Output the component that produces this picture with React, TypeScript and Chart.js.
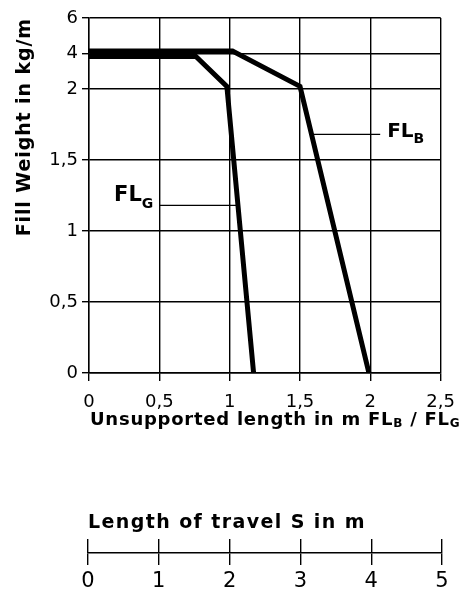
import React, { useEffect, useRef } from "react";
import { Chart, registerables } from "chart.js";

Chart.register(...registerables);

// ---- data ----
const xTickStep = 0.5;
const xMin = 0;
const xMax = 2.5;
const yTickValues = [0, 0.5, 1, 1.5, 2, 4, 6];

const flbX = [0, 1.02, 1.5, 1.99];
const flbY = [4.14, 4.14, 2.15, 0];

const flgX = [0, 0.76, 0.98, 1.17];
const flgY = [3.83, 3.83, 2.15, 0];

const leaderGX = [0.5, 1.05];
const leaderGY = [1.18, 1.18];
const leaderBX = [1.585, 2.07];
const leaderBY = [1.68, 1.68];

const travelTicks = [0, 1, 2, 3, 4, 5];

const FONT = "'DejaVu Sans', 'Liberation Sans', Arial, sans-serif";

// y-axis is piecewise: 0..2 in steps of 0.5 get one unit each, 2..6 compressed
const toPos = (v: number) => (v <= 2 ? v * 2 : 4 + (v - 2) / 4);
const fmt = (v: number) => String(v).replace(".", ",");

type Seg = { t: string; size: number; dy?: number };

function drawRich(
  ctx: CanvasRenderingContext2D,
  segs: Seg[],
  x: number,
  y: number,
  align: "left" | "right",
  spacing = 0
) {
  (ctx as any).letterSpacing = `${spacing}px`;
  ctx.textAlign = "left";
  ctx.textBaseline = "alphabetic";
  const widths = segs.map((s) => {
    ctx.font = `bold ${s.size}px ${FONT}`;
    return ctx.measureText(s.t).width;
  });
  const total = widths.reduce((a, b) => a + b, 0);
  let cx = align === "left" ? x : x - total;
  segs.forEach((s, i) => {
    ctx.font = `bold ${s.size}px ${FONT}`;
    ctx.fillText(s.t, cx, y + (s.dy || 0));
    cx += widths[i];
  });
  (ctx as any).letterSpacing = "0px";
}

const annotatePlugin = {
  id: "annotate",
  afterDatasetsDraw(chart: any) {
    const { ctx, scales, chartArea } = chart;
    const x = scales.x;
    const y = scales.y;
    ctx.save();
    ctx.fillStyle = "#000";
    // FL_G label, left of its leader line
    const gx = x.getPixelForValue(leaderGX[0]);
    const gy = y.getPixelForValue(toPos(leaderGY[0]));
    drawRich(ctx, [
      { t: "FL", size: 21 },
      { t: "G", size: 14, dy: 7 },
    ], gx - 6, gy - 4, "right");
    // FL_B label, right of its leader line
    const bx = x.getPixelForValue(leaderBX[1]);
    const by = y.getPixelForValue(toPos(leaderBY[0]));
    drawRich(ctx, [
      { t: "FL", size: 20 },
      { t: "B", size: 14, dy: 6 },
    ], bx + 7, by + 3, "left");
    // x-axis title with subscripts
    drawRich(ctx, [
      { t: "Unsupported length in m FL", size: 18 },
      { t: "B", size: 12, dy: 2 },
      { t: " / FL", size: 18 },
      { t: "G", size: 12, dy: 2 },
    ], chartArea.left + 1, x.bottom - 20, "left", 0.75);
    // y-axis title, rotated, ending at the top of the plot
    ctx.translate(30, chartArea.top);
    ctx.rotate(-Math.PI / 2);
    drawRich(ctx, [{ t: "Fill Weight in kg/m", size: 19 }], 0, 0, "right", 0.9);
    ctx.restore();
  },
};

const travelTitlePlugin = {
  id: "travelTitle",
  afterDraw(chart: any) {
    const { ctx, chartArea } = chart;
    ctx.save();
    ctx.fillStyle = "#000";
    drawRich(ctx, [{ t: "Length of travel S in m", size: 19 }], chartArea.left, chartArea.top - 11, "left", 1.4);
    ctx.restore();
  },
};

function MainChart() {
  const ref = useRef<HTMLCanvasElement>(null);
  useEffect(() => {
    if (!ref.current) return;
    const line = (xs: number[], ys: number[], w: number) => ({
      data: xs.map((xv, i) => ({ x: xv, y: toPos(ys[i]) })),
      borderColor: "#000",
      backgroundColor: "#000",
      borderWidth: w,
      pointRadius: 0,
      tension: 0,
      borderJoinStyle: "miter" as const,
      fill: false,
    });
    const chart = new Chart(ref.current, {
      type: "line",
      data: {
        datasets: [
          { label: "FL_B", ...line(flbX, flbY, 5) },
          { label: "FL_G", ...line(flgX, flgY, 5) },
          { label: "leaderG", ...line(leaderGX, leaderGY, 1.3) },
          { label: "leaderB", ...line(leaderBX, leaderBY, 1.3) },
        ],
      },
      options: {
        animation: false,
        responsive: false,
        layout: { padding: { top: 18, right: 20, left: 0, bottom: 0 } },
        plugins: { legend: { display: false }, tooltip: { enabled: false } },
        scales: {
          x: {
            type: "linear",
            min: xMin,
            max: xMax,
            afterFit: (s: any) => {
              s.height = 72;
            },
            ticks: {
              stepSize: xTickStep,
              callback: (v: any) => fmt(Number(v)),
              font: { family: FONT, size: 18 },
              color: "#000",
              padding: 11,
              maxRotation: 0,
              autoSkip: false,
            },
            grid: { color: "#000", lineWidth: 1.4, tickLength: 8 },
            border: { color: "#000", width: 1.4 },
          },
          y: {
            type: "linear",
            min: 0,
            max: toPos(6),
            afterFit: (s: any) => {
              s.width = 89;
            },
            afterBuildTicks: (s: any) => {
              s.ticks = yTickValues.map((v) => ({ value: toPos(v) }));
            },
            ticks: {
              callback: (v: any) => {
                const i = yTickValues.findIndex((t) => Math.abs(toPos(t) - Number(v)) < 1e-6);
                return i >= 0 ? fmt(yTickValues[i]) : "";
              },
              font: { family: FONT, size: 18 },
              color: "#000",
              padding: 4,
              autoSkip: false,
            },
            grid: { color: "#000", lineWidth: 1.4, tickLength: 7 },
            border: { color: "#000", width: 1.4 },
          },
        },
      },
      plugins: [annotatePlugin],
    });
    return () => chart.destroy();
  }, []);
  return <canvas ref={ref} width={466} height={445} style={{ position: "absolute", left: 0, top: 0 }} />;
}

function TravelAxis() {
  const ref = useRef<HTMLCanvasElement>(null);
  useEffect(() => {
    if (!ref.current) return;
    const chart = new Chart(ref.current, {
      type: "line",
      data: { datasets: [{ label: "S", data: [] }] },
      options: {
        animation: false,
        responsive: false,
        layout: { padding: { top: 94, right: 24, left: 88, bottom: 0 } },
        plugins: {
          legend: { display: false },
          tooltip: { enabled: false },
        },
        scales: {
          x: {
            type: "linear",
            min: travelTicks[0],
            max: travelTicks[travelTicks.length - 1],
            afterFit: (s: any) => {
              s.height = 41;
            },
            afterBuildTicks: (s: any) => {
              s.ticks = travelTicks.map((v) => ({ value: v }));
            },
            ticks: {
              callback: (v: any) => String(v),
              font: { family: FONT, size: 21 },
              color: "#000",
              padding: 4,
              maxRotation: 0,
              autoSkip: false,
            },
            grid: { color: "#000", lineWidth: 1.4, tickLength: 12, drawOnChartArea: true },
            border: { color: "#000", width: 1.4 },
          },
          y: { display: false, min: 0, max: 1 },
        },
      },
      plugins: [travelTitlePlugin],
    });
    return () => chart.destroy();
  }, []);
  return <canvas ref={ref} width={466} height={149} style={{ position: "absolute", left: 0, top: 445 }} />;
}

export default function App() {
  return (
    <div style={{ position: "fixed", left: 0, top: 0, width: 466, height: 594, background: "#fff" }}>
      <MainChart />
      <TravelAxis />
    </div>
  );
}
